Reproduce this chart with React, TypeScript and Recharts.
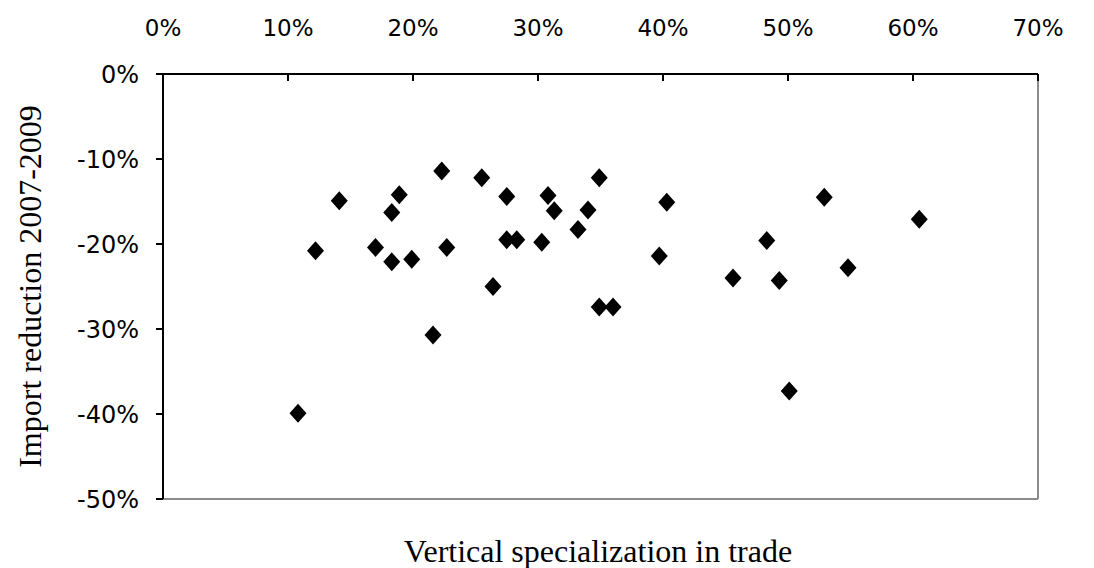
import React from "react";
import {
  ScatterChart,
  Scatter,
  XAxis,
  YAxis,
  ReferenceLine,
} from "recharts";

// Vertical specialization in trade (%)
const verticalSpecialization = [
  10.8, 12.2, 14.1, 17.0, 18.3, 18.9, 18.3, 19.9, 21.6, 22.3, 22.7, 25.5, 26.4,
  27.5, 27.5, 28.3, 30.3, 30.8, 31.3, 33.2, 34.0, 34.9, 34.9, 36.0, 39.7, 40.3,
  45.6, 48.3, 49.3, 50.1, 52.9, 54.8, 60.5,
];

// Import reduction 2007-2009 (%)
const importReduction = [
  -39.9, -20.8, -14.9, -20.4, -16.3, -14.2, -22.1, -21.8, -30.7, -11.4, -20.4,
  -12.2, -25.0, -14.4, -19.5, -19.5, -19.8, -14.3, -16.1, -18.3, -16.0, -12.2,
  -27.4, -27.4, -21.4, -15.1, -24.0, -19.6, -24.3, -37.3, -14.5, -22.8, -17.1,
];

const xTicks = [0, 10, 20, 30, 40, 50, 60, 70];
const yTicks = [0, -10, -20, -30, -40, -50];

const xTitle = "Vertical specialization in trade";
const yTitle = "Import reduction 2007-2009";

const points = verticalSpecialization.map((x, i) => ({
  x,
  y: importReduction[i],
}));

const Diamond = (props: any) => {
  const { cx, cy } = props;
  if (cx == null || cy == null) return null;
  const w = 8.5;
  const h = 9.5;
  return (
    <path
      d={`M${cx},${cy - h}L${cx + w},${cy}L${cx},${cy + h}L${cx - w},${cy}Z`}
      fill="#000"
    />
  );
};

const xTickFont = {
  fontFamily: "DejaVu Sans, Verdana, sans-serif",
  fontSize: 23,
  fill: "#000",
};

const yTickFont = {
  fontFamily: "DejaVu Sans, Verdana, sans-serif",
  fontSize: 24,
  fill: "#000",
};

const serif = "Liberation Serif, Times New Roman, serif";

export default function App() {
  return (
    <div
      style={{
        position: "absolute",
        left: 0,
        top: 0,
        width: 1094,
        height: 568,
        background: "#fff",
      }}
    >
      <ScatterChart
        width={1094}
        height={568}
        margin={{ top: 24, right: 56, bottom: 69, left: 13 }}
      >
        <XAxis
          type="number"
          dataKey="x"
          orientation="top"
          domain={[0, 70]}
          ticks={xTicks}
          tickFormatter={(v: number) => `${v}%`}
          height={50}
          tickSize={-7}
          tickMargin={45}
          tick={xTickFont}
          axisLine={{ stroke: "#000", strokeWidth: 2 }}
          tickLine={{ stroke: "#000", strokeWidth: 2 }}
          interval={0}
          allowDataOverflow
        />
        <YAxis
          type="number"
          dataKey="y"
          domain={[-50, 0]}
          ticks={yTicks}
          tickFormatter={(v: number) => `${v}%`}
          width={150}
          tickSize={7}
          tickMargin={17}
          tick={yTickFont}
          axisLine={{ stroke: "#000", strokeWidth: 2 }}
          tickLine={{ stroke: "#000", strokeWidth: 2 }}
          interval={0}
          allowDataOverflow
          label={{
            value: yTitle,
            angle: -90,
            position: "insideLeft",
            offset: 17,
            style: {
              textAnchor: "middle",
              fontFamily: serif,
              fontSize: 32,
              fill: "#000",
            },
          }}
        />
        <ReferenceLine x={70} stroke="#8c8c8c" strokeWidth={2} />
        <ReferenceLine y={-50} stroke="#8c8c8c" strokeWidth={2} />
        <Scatter
          data={points}
          shape={<Diamond />}
          isAnimationActive={false}
        />
      </ScatterChart>
      <div
        style={{
          position: "absolute",
          left: 0,
          width: 1196,
          top: 533,
          textAlign: "center",
          fontFamily: serif,
          fontSize: 32,
          lineHeight: "36px",
          color: "#000",
        }}
      >
        {xTitle}
      </div>
    </div>
  );
}
